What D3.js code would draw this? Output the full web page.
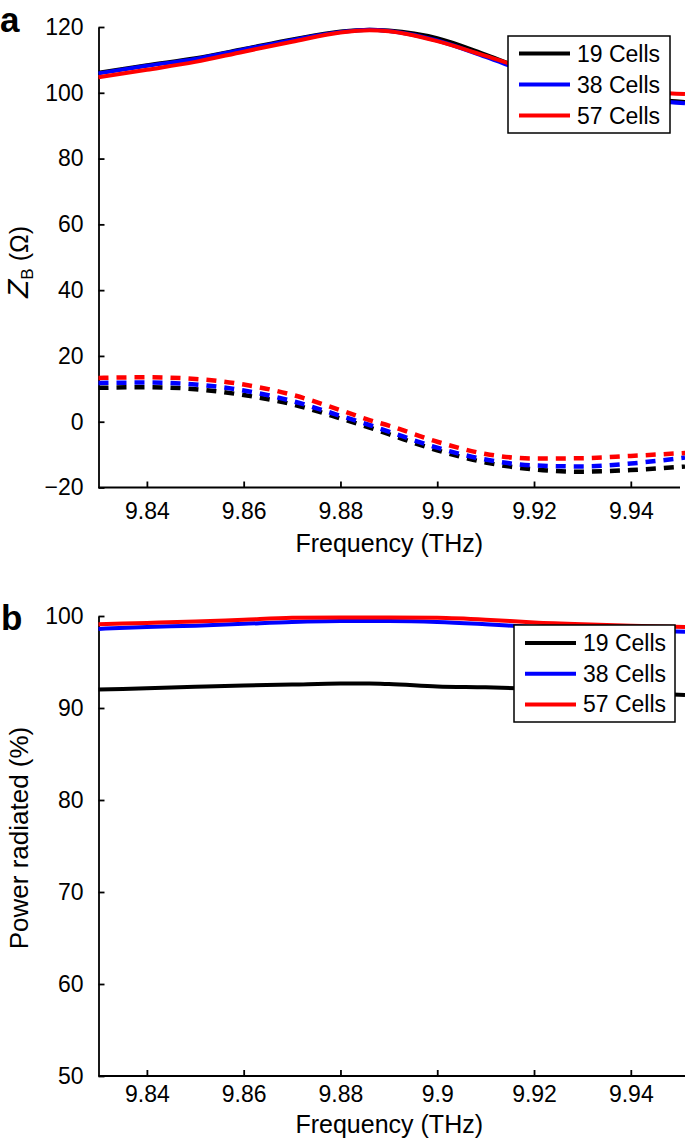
<!DOCTYPE html>
<html>
<head>
<meta charset="utf-8">
<script src="https://cdn.jsdelivr.net/npm/d3@7"></script>
<style>
  body { margin: 0; background: #fff; }
  svg { display: block; font-family: "Liberation Sans", Arial, Helvetica, sans-serif; }
</style>
</head>
<body>
<svg id="chart" width="685" height="1142"></svg>
<script>
// ---------- data ----------
const frequencies = [9.83, 9.84, 9.85, 9.86, 9.87, 9.88, 9.886, 9.89, 9.9, 9.91, 9.92, 9.93, 9.94, 9.9512];
const seriesNames = ["19 Cells", "38 Cells", "57 Cells"];
const seriesColors = ["#000000", "#0000ff", "#ff0000"];

// panel a: Z_B real part (solid)
const zReal19 = [106.1, 108.4, 110.5, 113.3, 116.2, 118.6, 119.2, 118.9, 116.6, 111.6, 106.0, 101.8, 98.8, 97.2];
const zReal38 = [105.9, 108.2, 110.3, 113.2, 116.0, 118.5, 119.2, 118.8, 115.9, 110.9, 105.6, 101.5, 98.5, 96.8];
const zReal57 = [104.7, 107.0, 109.4, 112.5, 115.5, 118.3, 119.0, 118.7, 115.7, 111.2, 106.5, 103.0, 100.8, 99.6];
// panel a: Z_B imaginary part (dashed)
const zImag19 = [10.3, 10.5, 9.9, 8.1, 5.3, 1.0, -1.8, -3.8, -8.7, -12.4, -14.5, -15.2, -14.7, -13.6];
const zImag38 = [11.8, 11.9, 11.3, 9.5, 6.3, 1.8, -1.0, -3.0, -7.9, -11.5, -13.3, -13.6, -12.7, -10.9];
const zImag57 = [13.3, 13.5, 13.0, 11.3, 8.2, 3.5, 0.5, -1.2, -6.1, -9.8, -11.2, -11.1, -10.4, -9.5];

// panel b: power radiated (%)
const power19 = [92.0, 92.15, 92.3, 92.45, 92.55, 92.65, 92.65, 92.6, 92.35, 92.25, 92.1, 91.9, 91.65, 91.4];
const power38 = [98.6, 98.8, 98.95, 99.15, 99.35, 99.45, 99.45, 99.45, 99.35, 99.1, 98.8, 98.6, 98.45, 98.3];
const power57 = [99.1, 99.25, 99.4, 99.6, 99.8, 99.85, 99.85, 99.85, 99.8, 99.6, 99.3, 99.1, 98.95, 98.8];

const xTickValues = [9.84, 9.86, 9.88, 9.9, 9.92, 9.94];
const xTickLabels = ["9.84", "9.86", "9.88", "9.9", "9.92", "9.94"];
const yTicksA = [-20, 0, 20, 40, 60, 80, 100, 120];
const yTicksB = [50, 60, 70, 80, 90, 100];

// ---------- drawing ----------
const svg = d3.select("#chart");
const FS = 23;
const TFS = 25;

function panel(opts) {
  const x = d3.scaleLinear().domain([9.83, 9.9512]).range([98.5, 685]);
  const y = d3.scaleLinear().domain(opts.yDomain).range([opts.yBottom, opts.yTop]);
  const g = svg.append("g");

  // axes
  const xAxis = d3.axisBottom(x).tickValues(xTickValues)
    .tickFormat((d, i) => xTickLabels[i]).tickSizeInner(-6).tickSizeOuter(0).tickPadding(opts.xPad);
  const gx = g.append("g").attr("transform", `translate(0,${opts.yBottom})`).call(xAxis);
  gx.select(".domain").attr("d", `M${x.range()[0]},0H${opts.xAxisEnd}`);
  const yAxis = d3.axisLeft(y).tickValues(opts.yTicks).tickSizeInner(-6).tickSizeOuter(0).tickPadding(15);
  const gy = g.append("g").attr("transform", `translate(${x.range()[0]},0)`).call(yAxis);
  [gx, gy].forEach(a => {
    a.selectAll("text").attr("font-size", FS).attr("font-family", '"Liberation Sans", Arial, sans-serif').attr("fill", "#000");
    a.selectAll("line").attr("stroke", "#000").attr("stroke-width", 1.8);
    a.select(".domain").attr("stroke", "#000").attr("stroke-width", 1.8);
  });

  // lines
  const line = d3.line().x((d, i) => x(frequencies[i])).y(d => y(d)).curve(d3.curveMonotoneX);
  opts.series.forEach(s => {
    g.append("path").datum(s.values)
      .attr("fill", "none").attr("stroke", s.color).attr("stroke-width", s.dashed ? 4.5 : 4)
      .attr("stroke-dasharray", s.dashed ? "10,8" : null)
      .attr("stroke-linejoin", "round")
      .attr("d", line);
  });

  // x-axis title
  g.append("text").attr("x", (98.5 + 680) / 2).attr("y", opts.titleY)
    .attr("text-anchor", "middle").attr("font-size", TFS).text("Frequency (THz)");

  // legend
  const L = opts.legend;
  const lg = g.append("g");
  lg.append("rect").attr("x", L.x).attr("y", L.y).attr("width", L.w).attr("height", L.h)
    .attr("fill", "#fff").attr("stroke", "#000").attr("stroke-width", 1.5);
  seriesNames.forEach((n, i) => {
    const yy = L.y + L.first + i * L.step;
    lg.append("line").attr("x1", L.x + 11).attr("x2", L.x + 62).attr("y1", yy).attr("y2", yy)
      .attr("stroke", seriesColors[i]).attr("stroke-width", 4);
    lg.append("text").attr("x", L.x + 69).attr("y", yy + 8).attr("font-size", FS).text(n);
  });
  return g;
}

panel({
  yDomain: [-20, 120], yTop: 27, yBottom: 487.5, yTicks: yTicksA, xAxisEnd: 680, xPad: 15, titleY: 552,
  series: [
    { values: zReal19, color: seriesColors[0] },
    { values: zReal38, color: seriesColors[1] },
    { values: zReal57, color: seriesColors[2] },
    { values: zImag19, color: seriesColors[0], dashed: true },
    { values: zImag38, color: seriesColors[1], dashed: true },
    { values: zImag57, color: seriesColors[2], dashed: true }
  ],
  legend: { x: 508, y: 36, w: 162, h: 97, first: 17.5, step: 31 }
});

panel({
  yDomain: [50, 100], yTop: 616, yBottom: 1076, yTicks: yTicksB, xAxisEnd: 685, xPad: 10, titleY: 1133,
  series: [
    { values: power19, color: seriesColors[0] },
    { values: power38, color: seriesColors[1] },
    { values: power57, color: seriesColors[2] }
  ],
  legend: { x: 514, y: 625, w: 161, h: 97, first: 18, step: 30.7 }
});

// y-axis titles
const ta = svg.append("text").attr("transform", "translate(28,262) rotate(-90)")
  .attr("text-anchor", "middle").attr("font-size", TFS);
ta.append("tspan").attr("font-style", "italic").attr("font-size", 30).text("Z");
ta.append("tspan").attr("font-size", 17).attr("dy", 5).text("B");
ta.append("tspan").attr("dy", -5).text(" (Ω)");

svg.append("text").attr("transform", "translate(28,838) rotate(-90)")
  .attr("text-anchor", "middle").attr("font-size", 26).text("Power radiated (%)");

// panel letters
svg.append("text").attr("x", 0).attr("y", 32).attr("font-size", 35).attr("font-weight", "bold").text("a");
svg.append("text").attr("x", 1).attr("y", 630).attr("font-size", 35).attr("font-weight", "bold").text("b");
</script>
</body>
</html>
